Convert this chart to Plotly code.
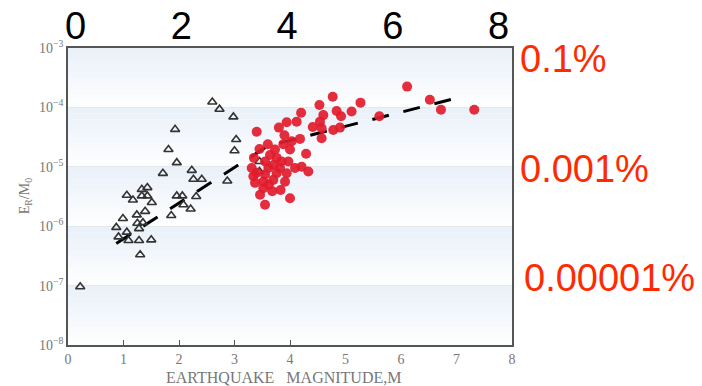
import plotly.graph_objects as go

# ---- data ----
tri_m = [0.22, 0.87, 0.91, 0.99, 1.06, 1.09, 1.06, 1.17, 1.33, 1.43, 1.33, 1.43, 1.51,
         1.24, 1.25, 1.35, 1.39, 1.28, 1.28, 1.50, 1.30, 1.86, 1.96, 2.06, 2.31, 2.08,
         2.21, 1.71, 2.23, 2.26, 2.41, 2.87, 1.81, 1.96, 1.93, 3.00, 3.03, 2.60, 2.73,
         2.98, 3.45, 3.45]
tri_log = [-7.02, -6.02, -6.18, -5.87, -6.10, -6.24, -5.48, -5.56, -5.38, -5.35, -5.49, -5.49, -5.60,
           -5.81, -5.95, -5.94, -5.75, -6.04, -6.24, -6.23, -6.48, -5.82, -5.49, -5.49, -5.50, -5.64,
           -5.71, -5.11, -5.06, -5.21, -5.21, -5.24, -4.71, -4.93, -4.37, -4.73, -4.54, -3.91, -4.03,
           -4.16, -4.91, -5.08]

red_m = [4.77, 4.53, 5.27, 4.20, 4.84, 5.11, 4.60, 4.92, 3.94, 4.12, 4.54, 3.80, 4.41, 4.57,
         3.40, 4.78, 4.90, 4.57, 4.03, 4.18, 4.00, 3.73, 4.29, 3.64, 3.76, 3.55, 3.85, 3.97,
         3.70, 3.31, 3.61, 3.82, 4.09, 4.21, 4.33, 3.34, 3.55, 3.76, 3.94, 3.37, 3.52, 3.70,
         3.91, 3.52, 3.68, 3.83, 3.46, 4.00, 3.55, 6.11, 6.52, 6.72, 7.32, 5.61, 3.90, 3.35,
         3.45, 3.60, 3.88, 3.40, 3.62]
red_log = [-3.82, -3.96, -3.92, -4.09, -4.06, -4.07, -4.13, -4.15, -4.25, -4.24, -4.24, -4.34, -4.33, -4.35,
           -4.41, -4.38, -4.34, -4.52, -4.57, -4.53, -4.71, -4.71, -4.78, -4.80, -4.85, -4.91, -4.91, -4.91,
           -4.97, -5.02, -5.02, -5.02, -5.02, -5.00, -5.08, -5.16, -5.13, -5.11, -5.11, -5.27, -5.25, -5.22,
           -5.25, -5.36, -5.41, -5.39, -5.47, -5.53, -5.64, -3.65, -3.87, -4.04, -4.04, -4.15, -4.47, -4.85,
           -4.70, -4.62, -4.62, -5.10, -5.30]

fit_m = [0.87, 3.6, 7.1]
fit_log = [-6.29, -4.65, -3.82]

x_ticks = [0, 1, 2, 3, 4, 5, 6, 7, 8]
x_minor_ticks = [1, 2, 3, 4]
y_decades = [-8, -7, -6, -5, -4, -3]
top_vals = [0, 2, 4, 6, 8]
top_text = ["0", "2", "4", "6", "8"]
pct_labels = ["0.1%", "0.001%", "0.00001%"]

tri_y = [10 ** v for v in tri_log]
red_y = [10 ** v for v in red_log]
fit_y = [10 ** v for v in fit_log]

SERIF = "Liberation Serif, DejaVu Serif, serif"
SANS = "Liberation Sans, Arial, sans-serif"

fig = go.Figure()

fig.add_trace(go.Scatter(
    x=fit_m, y=fit_y, mode="lines",
    line=dict(color="black", width=3, dash="17px,15px"),
    showlegend=False, hoverinfo="skip"))
fig.add_trace(go.Scatter(
    x=tri_m, y=tri_y, mode="markers",
    marker=dict(symbol="triangle-up-open", size=8, color="#333333", line=dict(width=1.6)),
    showlegend=False))
fig.add_trace(go.Scatter(
    x=red_m, y=red_y, mode="markers",
    marker=dict(symbol="circle", size=10, color="#e21b2c", opacity=0.92, line=dict(width=0)),
    showlegend=False))
# invisible traces to activate the extra axes
fig.add_trace(go.Scatter(x=[0], y=[1e-5], xaxis="x2", mode="markers",
                         marker=dict(opacity=0), showlegend=False, hoverinfo="skip"))
fig.add_trace(go.Scatter(x=[0], y=[1e-5], xaxis="x3", mode="markers",
                         marker=dict(opacity=0), showlegend=False, hoverinfo="skip"))

# gradient bands (each decade: light blue at top fading to white)
shapes = []
n_dec = len(y_decades) - 1
steps = 10
for k in range(n_dec):
    top = 1 - k / n_dec
    h = 1 / n_dec
    for s in range(steps):
        y1 = top - h * s / steps
        y0 = top - h * (s + 1) / steps
        op = 0.65 * (1 - s / steps)
        shapes.append(dict(type="rect", xref="paper", yref="paper", x0=0, x1=1,
                           y0=y0, y1=y1, fillcolor="#dfe9f6", opacity=op,
                           line=dict(width=0), layer="below"))

annotations = []
pct_pos = [(1.013, 0.963), (1.013, 0.593), (1.022, 0.226)]
for txt, (ax_, ay_) in zip(pct_labels, pct_pos):
    annotations.append(dict(text=txt, xref="paper", yref="paper", x=ax_, y=ay_,
                            xanchor="left", yanchor="middle", showarrow=False,
                            font=dict(family=SANS, size=38, color="#ff2a00")))
annotations.append(dict(text="EARTHQUAKE&nbsp;&nbsp;&nbsp;MAGNITUDE,M", xref="paper", yref="paper",
                        x=0.485, y=-0.075, xanchor="center", yanchor="top", showarrow=False,
                        font=dict(family=SERIF, size=16, color="#777777")))
annotations.append(dict(text="E<sub>R</sub>/M<sub>0</sub>", xref="paper", yref="paper",
                        x=-0.095, y=0.5, xanchor="center", yanchor="middle", showarrow=False,
                        textangle=-90, font=dict(family=SERIF, size=14, color="#777777")))

fig.update_layout(
    width=702, height=386,
    margin=dict(l=68, r=190, t=48, b=41),
    paper_bgcolor="white", plot_bgcolor="white",
    shapes=shapes, annotations=annotations,
    xaxis=dict(range=[0, 8], tickvals=x_ticks, ticktext=[str(v) for v in x_ticks],
               ticks="", showgrid=False, zeroline=False, automargin=False,
               showline=True, linecolor="#555555", linewidth=1.5, mirror=True,
               tickfont=dict(family=SERIF, size=14, color="#777777")),
    xaxis3=dict(range=[0, 8], overlaying="x", side="bottom", tickvals=x_minor_ticks,
                ticks="inside", ticklen=5, tickwidth=1.3, tickcolor="#555555", automargin=False,
                showticklabels=False, showgrid=False, zeroline=False, showline=False),
    xaxis2=dict(range=[-0.1415, 8.255], overlaying="x", side="top", tickvals=top_vals,
                ticktext=top_text, ticks="", showgrid=False, zeroline=False, showline=False,
                ticklabelstandoff=0, automargin=False,
                tickfont=dict(family=SANS, size=38, color="black")),
    yaxis=dict(type="log", range=[-8, -3], automargin=False,
               tickvals=[10 ** d for d in y_decades],
               ticktext=["10<sup>\u2212%d</sup>" % (-d) for d in y_decades],
               ticks="", showgrid=True, gridcolor="#e3e8ef", gridwidth=1, zeroline=False,
               showline=True, linecolor="#555555", linewidth=1.5, mirror=True,
               tickfont=dict(family=SERIF, size=14, color="#777777")),
)

fig.write_html("out.html")
